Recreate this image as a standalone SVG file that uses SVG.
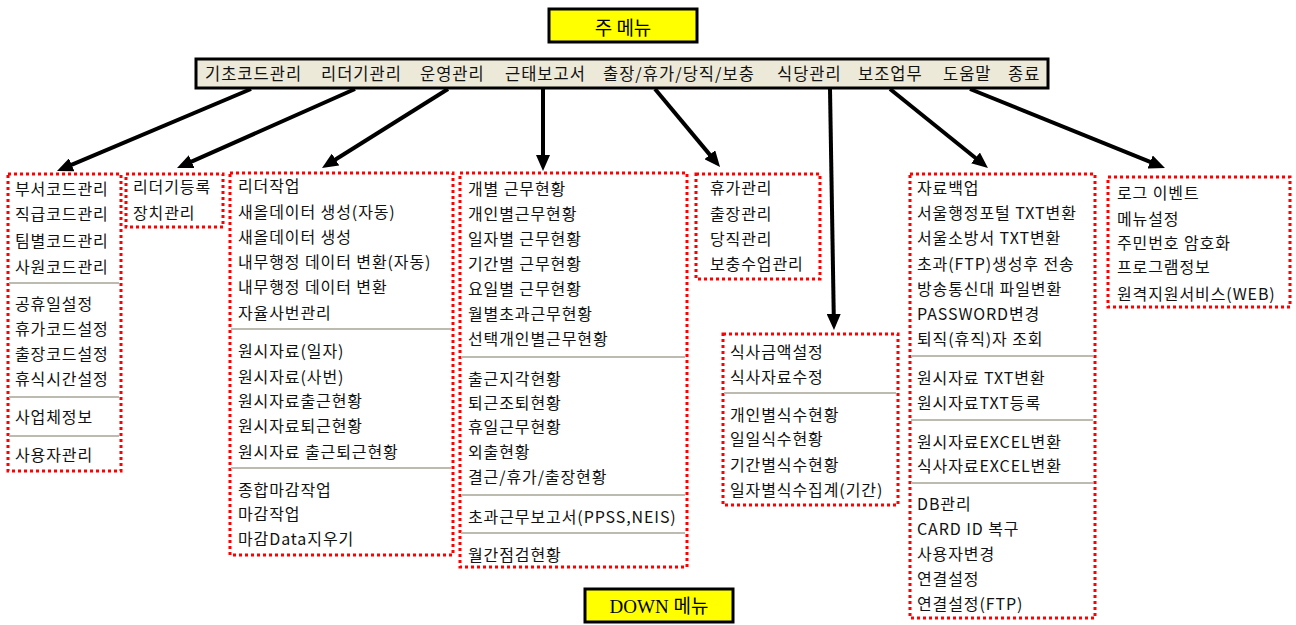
<svg xmlns="http://www.w3.org/2000/svg" width="1296" height="625" viewBox="0 0 1296 625">
<style>
.item{font-family:"Noto Sans CJK KR","Noto Sans",sans-serif;font-size:16px;letter-spacing:0.9px;fill:#111;dominant-baseline:central}
.menu{font-family:"Noto Sans CJK KR","Noto Sans",sans-serif;font-size:16.5px;letter-spacing:1px;fill:#111;dominant-baseline:central}
.dd{fill:#fff;stroke:#f00;stroke-width:3;stroke-dasharray:3 3}
.sep{stroke:#bdbab0;stroke-width:2}
.title{fill:#ff0;stroke:#000;stroke-width:3}
.conn{stroke:#000;stroke-width:4;fill:none}
</style>
<defs>
<marker id="ah" viewBox="0 0 16 14" refX="10" refY="7" markerWidth="16" markerHeight="14" markerUnits="userSpaceOnUse" orient="auto">
<path d="M0,0 L16,7 L0,14 z" fill="#000"/>
</marker>
</defs>
<rect width="1296" height="625" fill="#fff"/>

<g id="title-main">
<rect class="title" x="549" y="9" width="148" height="33"/>
<text x="623" y="26" text-anchor="middle" style="font-family:'Noto Sans CJK KR',sans-serif;font-size:19px;dominant-baseline:central">주 메뉴</text>
</g>

<g id="menubar">
<rect x="196" y="59" width="852" height="29" fill="#ece9d8" stroke="#000" stroke-width="3"/>
<text class="menu" x="205" y="73">기초코드관리</text>
<text class="menu" x="321" y="73">리더기관리</text>
<text class="menu" x="420" y="73">운영관리</text>
<text class="menu" x="505" y="73">근태보고서</text>
<text class="menu" x="603" y="73">출장/휴가/당직/보충</text>
<text class="menu" x="777" y="73">식당관리</text>
<text class="menu" x="858" y="73">보조업무</text>
<text class="menu" x="943" y="73">도움말</text>
<text class="menu" x="1008" y="73">종료</text>
</g>

<g id="connectors">
<line class="conn" x1="251" y1="89" x2="62.5" y2="168.7" marker-end="url(#ah)"/>
<line class="conn" x1="355" y1="89" x2="182.5" y2="165.6" marker-end="url(#ah)"/>
<line class="conn" x1="448" y1="89" x2="327.1" y2="164.8" marker-end="url(#ah)"/>
<line class="conn" x1="543" y1="89" x2="543" y2="165" marker-end="url(#ah)"/>
<line class="conn" x1="655" y1="89" x2="716.2" y2="162.4" marker-end="url(#ah)"/>
<line class="conn" x1="830" y1="89" x2="833.9" y2="324" marker-end="url(#ah)"/>
<line class="conn" x1="890" y1="89" x2="983.3" y2="164.2" marker-end="url(#ah)"/>
<line class="conn" x1="970" y1="89" x2="1159.4" y2="165.7" marker-end="url(#ah)"/>
</g>

<g id="dd-basecode">
<rect class="dd" x="8" y="174" width="113" height="297"/>
<text class="item" x="15" y="188">부서코드관리</text>
<text class="item" x="15" y="213">직급코드관리</text>
<text class="item" x="15" y="240">팀별코드관리</text>
<text class="item" x="15" y="266">사원코드관리</text>
<line class="sep" x1="9" y1="283" x2="119" y2="283"/>
<text class="item" x="15" y="303">공휴일설정</text>
<text class="item" x="15" y="328">휴가코드설정</text>
<text class="item" x="15" y="353">출장코드설정</text>
<text class="item" x="15" y="378">휴식시간설정</text>
<line class="sep" x1="9" y1="397" x2="119" y2="397"/>
<text class="item" x="15" y="416">사업체정보</text>
<line class="sep" x1="9" y1="436" x2="119" y2="436"/>
<text class="item" x="15" y="454">사용자관리</text>
</g>

<g id="dd-reader">
<rect class="dd" x="126" y="174" width="97" height="53"/>
<text class="item" x="133" y="186">리더기등록</text>
<text class="item" x="133" y="212">장치관리</text>
</g>

<g id="dd-operation">
<rect class="dd" x="230" y="173" width="223" height="382"/>
<text class="item" x="238" y="185">리더작업</text>
<text class="item" x="238" y="211">새올데이터 생성(자동)</text>
<text class="item" x="238" y="236">새올데이터 생성</text>
<text class="item" x="238" y="261">내무행정 데이터 변환(자동)</text>
<text class="item" x="238" y="286">내무행정 데이터 변환</text>
<text class="item" x="238" y="312">자율사번관리</text>
<line class="sep" x1="231" y1="329" x2="451" y2="329"/>
<text class="item" x="238" y="350">원시자료(일자)</text>
<text class="item" x="238" y="376">원시자료(사번)</text>
<text class="item" x="238" y="400">원시자료출근현황</text>
<text class="item" x="238" y="425">원시자료퇴근현황</text>
<text class="item" x="238" y="451">원시자료 출근퇴근현황</text>
<line class="sep" x1="231" y1="468" x2="451" y2="468"/>
<text class="item" x="238" y="489">종합마감작업</text>
<text class="item" x="238" y="513">마감작업</text>
<text class="item" x="238" y="538">마감Data지우기</text>
</g>

<g id="dd-report">
<rect class="dd" x="460" y="173" width="227" height="394"/>
<text class="item" x="468" y="188">개별 근무현황</text>
<text class="item" x="468" y="213">개인별근무현황</text>
<text class="item" x="468" y="238">일자별 근무현황</text>
<text class="item" x="468" y="263">기간별 근무현황</text>
<text class="item" x="468" y="288">요일별 근무현황</text>
<text class="item" x="468" y="313">월별초과근무현황</text>
<text class="item" x="468" y="338">선택개인별근무현황</text>
<line class="sep" x1="461" y1="357" x2="685" y2="357"/>
<text class="item" x="468" y="378">출근지각현황</text>
<text class="item" x="468" y="402">퇴근조퇴현황</text>
<text class="item" x="468" y="426">휴일근무현황</text>
<text class="item" x="468" y="451">외출현황</text>
<text class="item" x="468" y="476">결근/휴가/출장현황</text>
<line class="sep" x1="461" y1="495" x2="685" y2="495"/>
<text class="item" x="468" y="516">초과근무보고서(PPSS,NEIS)</text>
<line class="sep" x1="461" y1="533" x2="685" y2="533"/>
<text class="item" x="468" y="554">월간점검현황</text>
</g>

<g id="dd-trip">
<rect class="dd" x="696" y="174" width="124" height="105"/>
<text class="item" x="710" y="187">휴가관리</text>
<text class="item" x="710" y="213">출장관리</text>
<text class="item" x="710" y="238">당직관리</text>
<text class="item" x="710" y="263">보충수업관리</text>
</g>

<g id="dd-meal">
<rect class="dd" x="723" y="334" width="175" height="171"/>
<text class="item" x="730" y="351">식사금액설정</text>
<text class="item" x="730" y="376">식사자료수정</text>
<line class="sep" x1="724" y1="393" x2="896" y2="393"/>
<text class="item" x="730" y="414">개인별식수현황</text>
<text class="item" x="730" y="438">일일식수현황</text>
<text class="item" x="730" y="464">기간별식수현황</text>
<text class="item" x="730" y="489">일자별식수집계(기간)</text>
</g>

<g id="dd-aux">
<rect class="dd" x="910" y="174" width="185" height="444"/>
<text class="item" x="917" y="187">자료백업</text>
<text class="item" x="917" y="212">서울행정포털 TXT변환</text>
<text class="item" x="917" y="237">서울소방서 TXT변환</text>
<text class="item" x="917" y="263">초과(FTP)생성후 전송</text>
<text class="item" x="917" y="288">방송통신대 파일변환</text>
<text class="item" x="917" y="313">PASSWORD변경</text>
<text class="item" x="917" y="338">퇴직(휴직)자 조회</text>
<line class="sep" x1="911" y1="356" x2="1093" y2="356"/>
<text class="item" x="917" y="377">원시자료 TXT변환</text>
<text class="item" x="917" y="402">원시자료TXT등록</text>
<line class="sep" x1="911" y1="420" x2="1093" y2="420"/>
<text class="item" x="917" y="441">원시자료EXCEL변환</text>
<text class="item" x="917" y="465">식사자료EXCEL변환</text>
<line class="sep" x1="911" y1="483" x2="1093" y2="483"/>
<text class="item" x="917" y="503">DB관리</text>
<text class="item" x="917" y="528">CARD ID 복구</text>
<text class="item" x="917" y="553">사용자변경</text>
<text class="item" x="917" y="578">연결설정</text>
<text class="item" x="917" y="603">연결설정(FTP)</text>
</g>

<g id="dd-help">
<rect class="dd" x="1108" y="177" width="182" height="130"/>
<text class="item" x="1117" y="192">로그 이벤트</text>
<text class="item" x="1117" y="218">메뉴설정</text>
<text class="item" x="1117" y="242">주민번호 암호화</text>
<text class="item" x="1117" y="266">프로그램정보</text>
<text class="item" x="1117" y="293">원격지원서비스(WEB)</text>
</g>

<g id="title-down">
<rect class="title" x="585" y="589" width="148" height="33"/>
<text x="659" y="606" text-anchor="middle" style="font-family:'Liberation Serif','Noto Sans CJK KR',serif;font-size:19px;dominant-baseline:central">DOWN 메뉴</text>
</g>
</svg>
